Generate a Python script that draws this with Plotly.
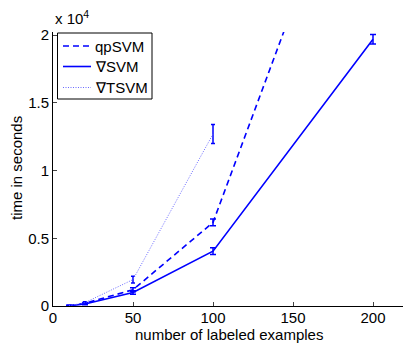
import plotly.graph_objects as go

x_labeled = [10, 20, 50, 100, 200]
qp_svm = [20, 200, 1200, 6170, 38000]
qp_svm_err = [30, 60, 150, 250, 500]
grad_svm = [10, 150, 1000, 4050, 19700]
grad_svm_err = [20, 50, 130, 250, 350]
x_tsvm = [10, 20, 50, 100]
grad_tsvm = [20, 250, 1950, 12700]
grad_tsvm_err = [30, 60, 250, 700]

series_names = ["qpSVM", "∇SVM", "∇TSVM"]
y_tickvals = [0, 5000, 10000, 15000, 20000]
y_ticktext = ["0", "0.5", "1", "1.5", "2"]
x_tickvals = [0, 50, 100, 150, 200]

FONT = "Liberation Sans, Arial, sans-serif"
FS = 15
BLUE = "#0000ff"
LIGHT = "#6a6aff"

line_styles = [
    dict(color=BLUE, width=1.6, dash="6px,4px"),
    dict(color=BLUE, width=1.6),
    dict(color=LIGHT, width=1, dash="1px,1.5px"),
]

fig = go.Figure()
fig.add_trace(go.Scatter(
    x=x_labeled, y=qp_svm, name=series_names[0], mode="lines", line=line_styles[0],
    error_y=dict(type="data", array=qp_svm_err, visible=True, color=BLUE, thickness=1.5, width=3),
))
fig.add_trace(go.Scatter(
    x=x_labeled, y=grad_svm, name=series_names[1], mode="lines", line=line_styles[1],
    error_y=dict(type="data", array=grad_svm_err, visible=True, color=BLUE, thickness=1.5, width=3),
))
fig.add_trace(go.Scatter(
    x=x_tsvm, y=grad_tsvm, name=series_names[2], mode="lines", line=line_styles[2],
    error_y=dict(type="data", array=grad_tsvm_err, visible=True, color=BLUE, thickness=1.5, width=2),
))

# Legend drawn as a boxed key in paper coordinates (plot area: 350 x 274 px)
PW, PH = 350.0, 274.0
def px(x):
    return (x - 53) / PW
def py(y):
    return (306 - y) / PH

shapes = [dict(type="rect", xref="paper", yref="paper",
               x0=px(57.5), x1=px(152), y0=py(99), y1=py(33),
               line=dict(color="black", width=1), fillcolor="white", layer="above")]
annotations = []
row_y = [46, 66.5, 87.5]
for name, style, ry in zip(series_names, line_styles, row_y):
    shapes.append(dict(type="line", xref="paper", yref="paper",
                       x0=px(63), x1=px(91), y0=py(ry), y1=py(ry),
                       line=style, layer="above"))
    annotations.append(dict(text=name, xref="paper", yref="paper",
                            x=px(92.5), y=py(ry), xanchor="left", yanchor="middle",
                            showarrow=False, font=dict(family=FONT, size=FS)))

annotations += [
    dict(text="x 10<sup>4</sup>", xref="paper", yref="paper", x=0.0, y=1.0,
         xanchor="left", yanchor="bottom", showarrow=False,
         font=dict(family=FONT, size=FS), yshift=3),
    dict(text="number of labeled examples", xref="paper", yref="paper",
         x=px(229), y=py(334), xanchor="center", yanchor="middle", showarrow=False,
         font=dict(family=FONT, size=FS)),
    dict(text="time in seconds", xref="paper", yref="paper",
         x=px(16), y=py(168), xanchor="center", yanchor="middle", showarrow=False,
         textangle=-90, font=dict(family=FONT, size=FS)),
]

fig.update_layout(
    width=403, height=343,
    margin=dict(l=53, r=0, t=32, b=37, autoexpand=False),
    paper_bgcolor="white", plot_bgcolor="white",
    font=dict(family=FONT, size=FS, color="black"),
    showlegend=False,
    xaxis=dict(
        range=[0, 218.75], tickvals=x_tickvals, ticks="inside", ticklen=4,
        showline=True, linecolor="black", linewidth=1, showgrid=False, zeroline=False,
        tickfont=dict(size=FS), automargin=False, ticklabelstandoff=-2,
    ),
    yaxis=dict(
        range=[0, 20236], tickvals=y_tickvals, ticktext=y_ticktext, ticks="inside", ticklen=4,
        showline=True, linecolor="black", linewidth=1, showgrid=False, zeroline=False,
        tickfont=dict(size=FS), automargin=False,
    ),
    shapes=shapes,
    annotations=annotations,
)

fig.write_html(
    "out.html",
    config={"displayModeBar": False, "staticPlot": True},
    post_script="document.body.style.margin='0';document.body.style.overflow='hidden';",
)
